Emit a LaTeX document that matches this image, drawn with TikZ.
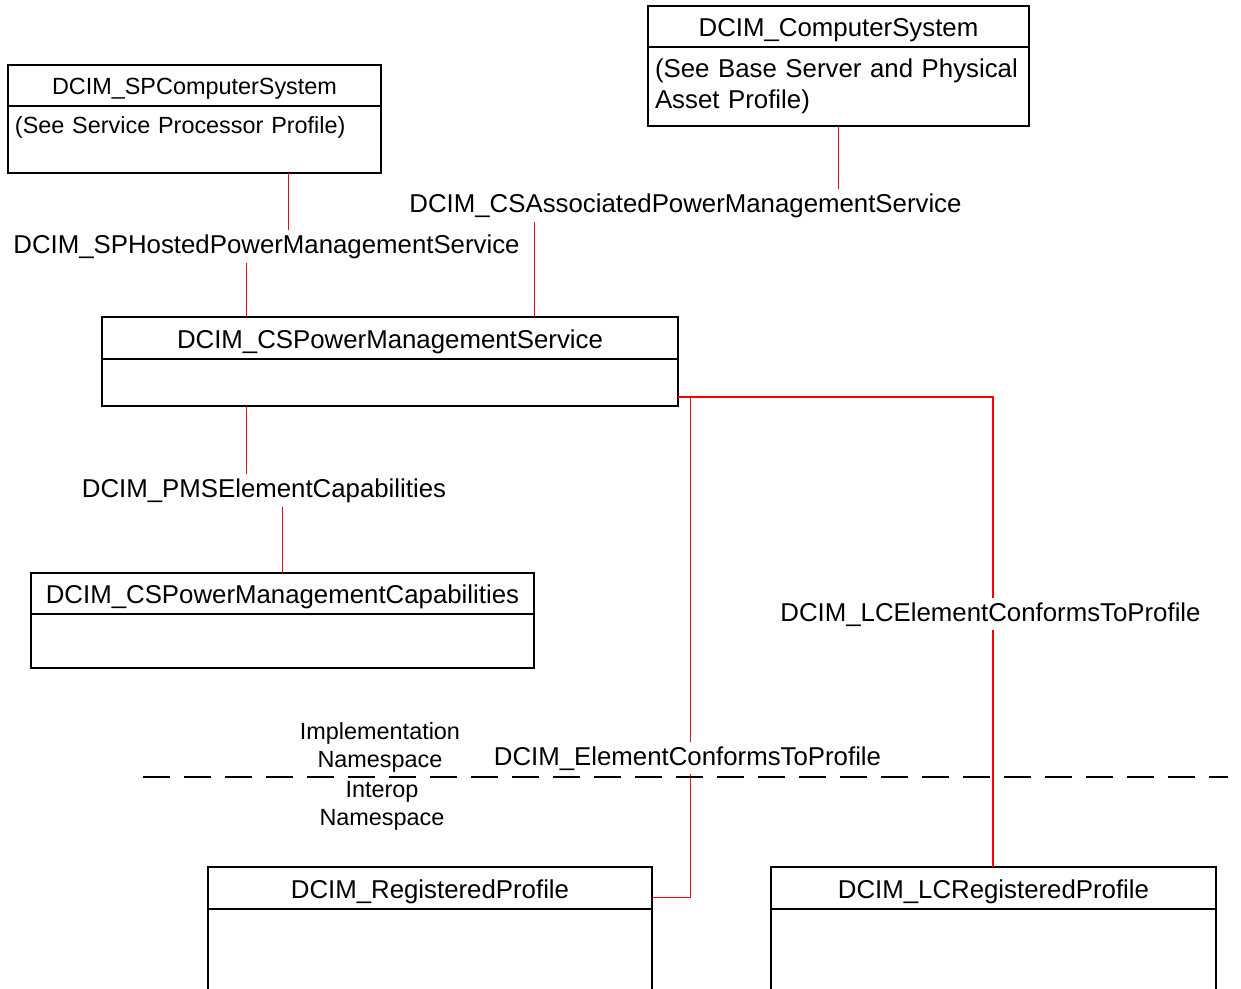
\documentclass[tikz,border=0pt]{standalone}
\usepackage{fontspec}
\setmainfont{Liberation Sans}
\usepackage{tikz}
\usetikzlibrary{positioning}

\begin{document}
\begin{tikzpicture}[x=1bp, y=-1bp, font=\fontsize{25.9}{31.1}\selectfont,
    clsname/.style={draw, line width=1.3bp, inner sep=0bp, outer sep=0bp, text height=20bp, text depth=0bp},
    clsbody/.style={draw, line width=1.3bp, inner xsep=7bp, inner ysep=0bp, outer sep=0bp, align=left},
    smallfont/.style={font=\fontsize{23.5}{28.1}\selectfont},
    assoc/.style={draw=red, line width=1.4bp},
    lbl/.style={inner xsep=0bp, inner ysep=4bp, anchor=base},
    nslbl/.style={smallfont, align=center, inner sep=0bp}]
    \useasboundingbox (0,0) rectangle (1241,989);
    \clip (0,0) rectangle (1241,989);

    \node[clsname, smallfont, text height=18bp, minimum width=373bp, minimum height=41bp] (spcs) at (194.5,85.5) {DCIM\_SPComputerSystem};
    \node[clsbody, smallfont, minimum width=373bp, minimum height=67bp, text width=359bp, below=0bp of spcs] (spcsb) {(See Service Processor Profile)\\ \mbox{}};
    \node[clsname, minimum width=381bp, minimum height=41bp] (cs) at (838.5,26.5) {DCIM\_ComputerSystem};
    \node[clsbody, minimum width=381bp, minimum height=79bp, text width=367bp, below=0bp of cs] (csb) {(See Base Server and Physical\\Asset Profile)};
    \node[clsname, minimum width=576bp, minimum height=42bp] (pms) at (390,338) {DCIM\_CSPowerManagementService};
    \node[clsbody, minimum width=576bp, minimum height=47bp, below=0bp of pms] (pmsb) {};
    \node[clsname, minimum width=503bp, minimum height=41bp] (pmc) at (282.5,593.5) {DCIM\_CSPowerManagementCapabilities};
    \node[clsbody, minimum width=503bp, minimum height=54bp, below=0bp of pmc] (pmcb) {};
    \node[clsname, minimum width=444bp, minimum height=42bp] (rp) at (430,888) {DCIM\_RegisteredProfile};
    \node[clsbody, minimum width=444bp, minimum height=110bp, below=0bp of rp] (rpb) {};
    \node[clsname, minimum width=445bp, minimum height=42bp] (lcrp) at (993.5,888) {DCIM\_LCRegisteredProfile};
    \node[clsbody, minimum width=445bp, minimum height=110bp, below=0bp of lcrp] (lcrpb) {};

    % association names
    \node[lbl] (sphosted) at (266.5,253) {DCIM\_SPHostedPowerManagementService};
    \node[lbl] (csassoc) at (685.5,212) {DCIM\_CSAssociatedPowerManagementService};
    \node[lbl] (pmselem) at (264,497) {DCIM\_PMSElementCapabilities};
    \node[lbl] (lcelem) at (990.5,621) {DCIM\_LCElementConformsToProfile};
    \node[lbl] (elem) at (687.5,765) {DCIM\_ElementConformsToProfile};

    \coordinate (spx) at (288.5,0);
    \coordinate (pmsx) at (246.5,0);
    \coordinate (csx) at (534.5,0);
    \coordinate (lcx) at (993,397);
    \coordinate (elx) at (690.5,397);
    \coordinate (elb) at (690.5,897.5);

    \draw[assoc] (spcsb.south -| spx) -- (sphosted.north -| spx);
    \draw[assoc] (sphosted.south -| pmsx) -- (pms.north -| pmsx);
    \draw[assoc] (csb.south) -- (csb.south |- csassoc.north);
    \draw[assoc] (csassoc.south -| csx) -- (pms.north -| csx);
    \draw[assoc] (pmsb.south -| pmsx) -- (pmselem.north -| pmsx);
    \draw[assoc] (pmc.north |- pmselem.south) -- (pmc.north);
    \draw[assoc] (pmsb.east |- lcx) -- (lcx) -- (lcelem.north -| lcx);
    \draw[assoc] (lcelem.south -| lcx) -- (lcrp.north -| lcx);
    \draw[assoc] (elx) -- (elem.north -| elx);
    \draw[assoc] (elem.south -| elb) -- (elb) -- (rp.east |- elb);

    % namespaces
    \coordinate (dl) at (143,777);
    \coordinate (dr) at (1228,777);
    \draw[line width=1.8bp, dash pattern=on 27bp off 14bp] (dl) -- (dr);
    \node[nslbl] (impl) at (380,747) {Implementation\\Namespace};
    \node[nslbl] (interop) at (382,806) {Interop\\Namespace};
\end{tikzpicture}
\end{document}
